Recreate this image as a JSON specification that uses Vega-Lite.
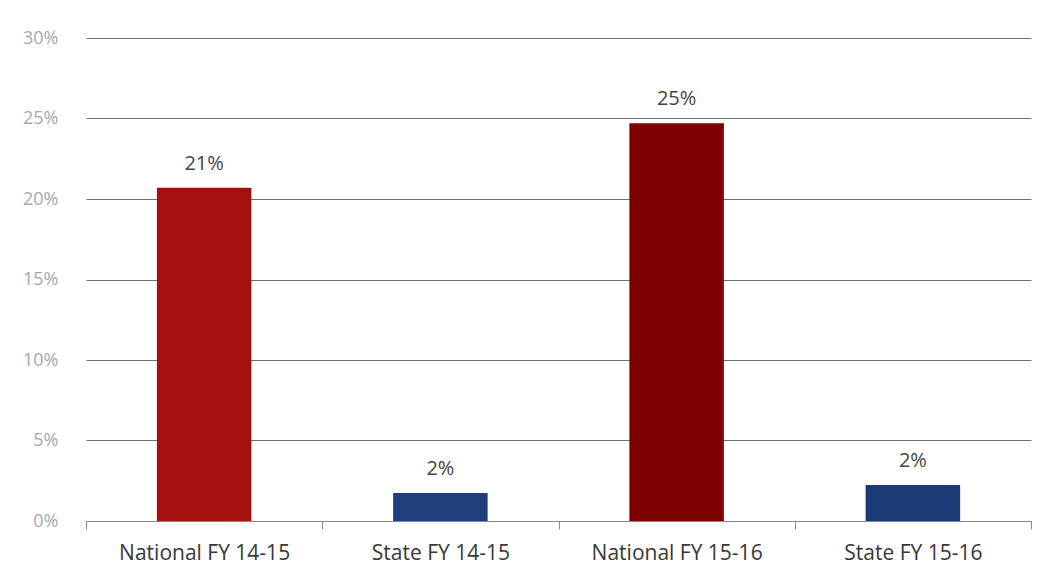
{
  "$schema": "https://vega.github.io/schema/vega-lite/v6.json",
  "autosize": "none",
  "width": 945,
  "height": 483,
  "padding": {"left": 86, "top": 38, "right": 20, "bottom": 67},
  "background": "white",
  "data": {
    "values": [
      {"category": "National FY 14-15", "value": 0.207},
      {"category": "State  FY 14-15", "value": 0.0174},
      {"category": "National FY 15-16", "value": 0.247},
      {"category": "State FY 15-16", "value": 0.0224}
    ]
  },
  "config": {
    "view": {"stroke": null},
    "font": "Open Sans"
  },
  "encoding": {
    "x": {
      "field": "category",
      "type": "nominal",
      "sort": null,
      "scale": {"paddingInner": 0, "paddingOuter": 0},
      "axis": {
        "title": null,
        "labelAngle": 0,
        "labelFontSize": 21,
        "labelColor": "#383838",
        "labelPadding": 13,
        "domainColor": "#888888",
        "tickColor": "#888888",
        "tickSize": 8,
        "tickBand": "extent",
        "grid": false
      }
    },
    "y": {
      "field": "value",
      "type": "quantitative",
      "scale": {"domain": [0, 0.3]},
      "axis": {
        "title": null,
        "format": ".0%",
        "values": [0, 0.05, 0.1, 0.15, 0.2, 0.25, 0.3],
        "labelFontSize": 18,
        "labelColor": "#a8a8a8",
        "labelPadding": 28,
        "domain": false,
        "ticks": false,
        "gridColor": "#707070",
        "gridWidth": 1.2
      }
    }
  },
  "layer": [
    {
      "mark": {"type": "bar", "width": {"band": 0.4}},
      "encoding": {
        "color": {
          "field": "category",
          "type": "nominal",
          "legend": null,
          "scale": {
            "domain": ["National FY 14-15", "State  FY 14-15", "National FY 15-16", "State FY 15-16"],
            "range": ["#a3100f", "#1e3f7c", "#7d0000", "#1b3a73"]
          }
        }
      }
    },
    {
      "mark": {"type": "text", "baseline": "alphabetic", "dy": -18, "fontSize": 20, "color": "#454545"},
      "encoding": {
        "text": {"field": "value", "type": "quantitative", "format": ".0%"}
      }
    }
  ]
}
